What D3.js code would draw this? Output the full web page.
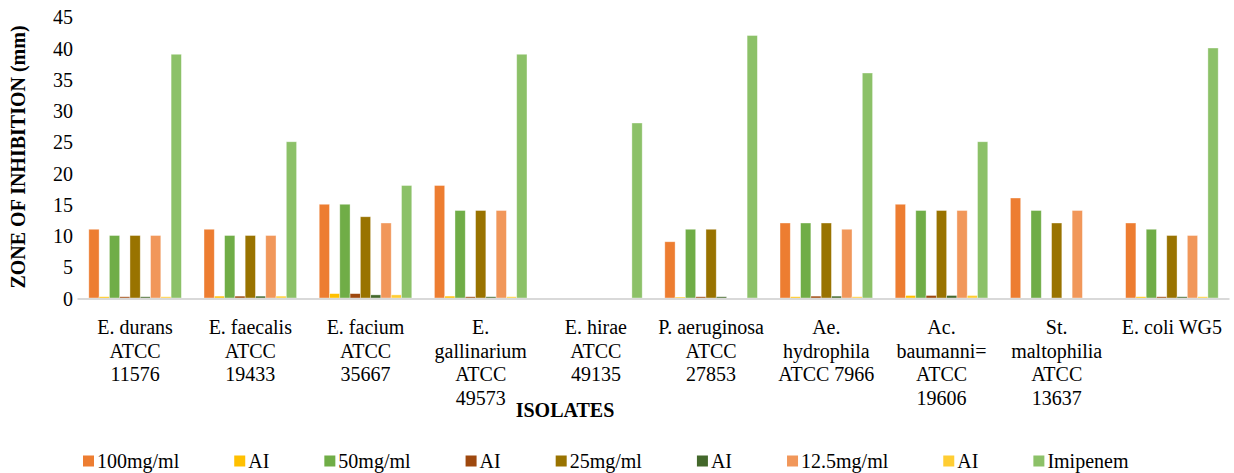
<!DOCTYPE html>
<html><head><meta charset="utf-8">
<script src="https://cdn.jsdelivr.net/npm/d3@7"></script>
<style>html,body{margin:0;padding:0;background:#fff}</style>
</head><body><svg id="c" width="1234" height="473"></svg>
<script>
const categories = [
  "E. durans\nATCC\n11576",
  "E. faecalis\nATCC\n19433",
  "E. facium\nATCC\n35667",
  "E.\ngallinarium\nATCC\n49573",
  "E. hirae\nATCC\n49135",
  "P. aeruginosa\nATCC\n27853",
  "Ae.\nhydrophila\nATCC 7966",
  "Ac.\nbaumanni=\nATCC\n19606",
  "St.\nmaltophilia\nATCC\n13637",
  "E. coli WG5"
];
const seriesNames = ["100mg/ml","AI","50mg/ml","AI","25mg/ml","AI","12.5mg/ml","AI","Imipenem"];
const seriesColors = ["#ED7D31","#FFC000","#70AD47","#9E480E","#997300","#43682B","#F1975A","#FFCD33","#8CC168"];
const s100  = [11, 11, 15, 18, 0,  9, 12, 15, 16, 12];
const ai1   = [0.2,0.3,0.7,0.3,0,0.15,0.2,0.4,0,0.2];
const s50   = [10, 10, 15, 14, 0, 11, 12, 14, 14, 11];
const ai2   = [0.2,0.3,0.7,0.2,0,0.2,0.3,0.4,0,0.2];
const s25   = [10, 10, 13, 14, 0, 11, 12, 14, 12, 10];
const ai3   = [0.2,0.3,0.5,0.2,0,0.2,0.3,0.4,0,0.2];
const s12   = [10, 10, 12, 14, 0,  0, 11, 14, 14, 10];
const ai4   = [0.2,0.3,0.5,0.2,0,0,0.2,0.4,0,0.2];
const imip  = [39, 25, 18, 39, 28, 42, 36, 25, 0, 40];
const yTicks = [0,5,10,15,20,25,30,35,40,45];
const series = [s100, ai1, s50, ai2, s25, ai3, s12, ai4, imip];

const svg = d3.select("#c");
const font = "'Liberation Serif','Times New Roman',serif";
const pLeft = 77.5, pRight = 1229.5, pTop = 16.75, pBottom = 298;

const x0 = d3.scaleBand().domain(d3.range(categories.length)).range([pLeft, pRight]).padding(0);
const x1 = d3.scaleBand().domain(d3.range(series.length)).range([0, x0.bandwidth()]).paddingInner(0).paddingOuter(1.1);
const y = d3.scaleLinear().domain([0, 45]).range([pBottom, pTop]);

const g = svg.append("g");
series.forEach((vals, si) => {
  g.selectAll(null).data(vals).enter().append("rect")
    .attr("x", (d,i) => x0(i) + x1(si))
    .attr("y", d => y(d))
    .attr("width", x1.bandwidth())
    .attr("height", d => pBottom - y(d))
    .attr("fill", seriesColors[si])
    .attr("stroke", "#fff").attr("stroke-opacity", 0.5).attr("stroke-width", 0.75);
});

svg.append("line").attr("x1", pLeft).attr("x2", pRight).attr("y1", pBottom+1).attr("y2", pBottom+1)
  .attr("stroke", "#D9D9D9").attr("stroke-width", 2);

const yAxis = d3.axisLeft(y).tickValues(yTicks).tickSize(0).tickPadding(0);
const ya = svg.append("g").attr("transform", "translate(73,0)").call(yAxis);
ya.select(".domain").remove();
ya.selectAll("text").attr("font-family", font).attr("font-size", 20).attr("fill", "#000").attr("dy", "0.35em");

categories.forEach((c, i) => {
  const lines = c.split("\n");
  const t = svg.append("text").attr("font-family", font).attr("font-size", 20).attr("fill", "#000")
    .attr("text-anchor", "middle");
  lines.forEach((ln, k) => {
    t.append("tspan").attr("x", x0(i) + x0.bandwidth()/2).attr("y", 334 + k*23.5).text(ln);
  });
});

svg.append("text").attr("x", 565).attr("y", 417).attr("text-anchor", "middle")
  .attr("font-family", font).attr("font-size", 20).attr("font-weight", "bold").text("ISOLATES");
svg.append("text").attr("transform", "translate(25,157) rotate(-90)").attr("text-anchor", "middle")
  .attr("font-family", font).attr("font-size", 20).attr("font-weight", "bold").text("ZONE OF INHIBITION (mm)");

let lx = 83;
const ly = 461;
seriesNames.forEach((n, i) => {
  svg.append("rect").attr("x", lx).attr("y", ly - 5.5).attr("width", 11).attr("height", 11).attr("fill", seriesColors[i]);
  const t = svg.append("text").attr("x", lx + 14).attr("y", ly + 6.5).attr("font-family", font).attr("font-size", 20)
    .attr("fill", "#000").text(n);
  lx += 14 + t.node().getComputedTextLength() + 55;
});
</script></body></html>
